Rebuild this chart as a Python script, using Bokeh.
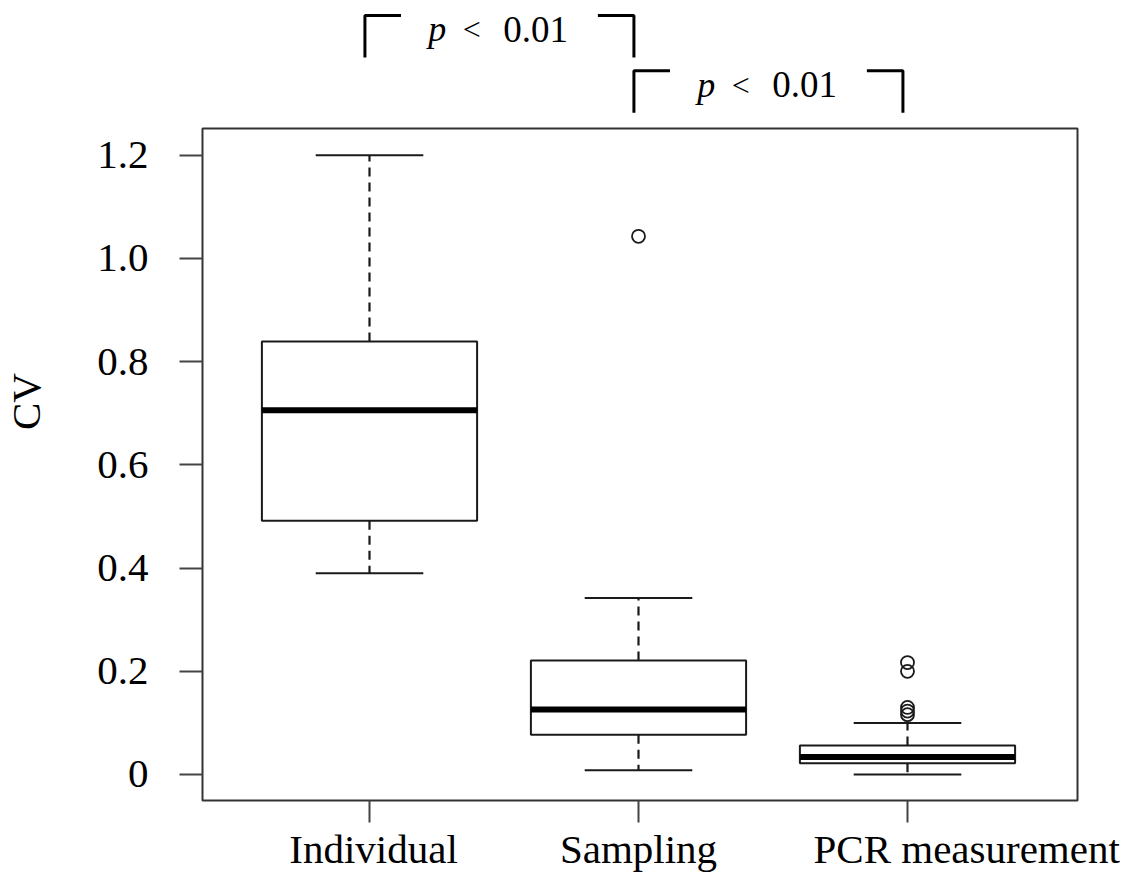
from bokeh.plotting import figure
from bokeh.models import Range1d, FixedTicker
from bokeh.core.properties import value
from bokeh.embed import file_html
from bokeh.resources import INLINE

# ---------------- data ----------------
categories = ["Individual", "Sampling", "PCR measurement"]
lower_whisker = [0.390, 0.008, 0.000]
q1 = [0.492, 0.077, 0.022]
median = [0.706, 0.126, 0.034]
q3 = [0.839, 0.221, 0.056]
upper_whisker = [1.200, 0.342, 0.100]

outlier_category = ["Sampling", "PCR measurement", "PCR measurement",
                    "PCR measurement", "PCR measurement", "PCR measurement"]
outlier_value = [1.043, 0.217, 0.200, 0.130, 0.123, 0.116]

y_ticks = [0.0, 0.2, 0.4, 0.6, 0.8, 1.0, 1.2]
y_tick_labels = ["0", "0.2", "0.4", "0.6", "0.8", "1.0", "1.2"]
y_axis_label = "CV"

comparisons = [("Individual", "Sampling"), ("Sampling", "PCR measurement")]
comparison_stat = ["p", "p"]
comparison_sign = ["<", "<"]
comparison_level = ["0.01", "0.01"]

# ---------------- layout / style ----------------
FONT = "Liberation Serif"
INK = "#1a1a1a"
pos = {c: i + 1 for i, c in enumerate(categories)}
xs = [pos[c] for c in categories]
box_half = 0.4
cap_half = 0.2
label_nudge = [0.015, 0.0, 0.22]      # horizontal nudge of category labels
bracket_top = [1.471, 1.364]          # height of the significance brackets
bracket_drop = 0.0815
bracket_stub = 0.134
bracket_shift = -0.017
text_drop = 0.027

frame_x = (0.37918, 3.63197)
frame_y = (-0.050388, 1.25194)

p = figure(width=1131, height=876,
           x_range=Range1d(0.37175, 3.64312), y_range=Range1d(-0.054264, 1.5),
           output_backend="svg", toolbar_location=None, x_axis_location="below",
           min_border_left=200, min_border_right=51, min_border_top=0,
           min_border_bottom=74)
p.outline_line_color = None
p.grid.grid_line_color = None
p.background_fill_color = "white"

# plot box (frame)
p.quad(left=[frame_x[0]], right=[frame_x[1]], bottom=[frame_y[0]], top=[frame_y[1]],
       fill_color=None, line_color="#333333", line_width=2)

# whiskers (dashed)
p.segment(x0=xs, y0=q3, x1=xs, y1=upper_whisker, line_color=INK, line_width=2.2,
          line_dash="9 6")
p.segment(x0=xs, y0=q1, x1=xs, y1=lower_whisker, line_color=INK, line_width=2.2,
          line_dash="9 6")
# whisker caps
p.segment(x0=[x - cap_half for x in xs], y0=upper_whisker,
          x1=[x + cap_half for x in xs], y1=upper_whisker, line_color=INK, line_width=2)
p.segment(x0=[x - cap_half for x in xs], y0=lower_whisker,
          x1=[x + cap_half for x in xs], y1=lower_whisker, line_color=INK, line_width=2)
# boxes
p.quad(left=[x - box_half for x in xs], right=[x + box_half for x in xs],
       bottom=q1, top=q3, fill_color="white", line_color=INK, line_width=2)
# medians
p.segment(x0=[x - box_half for x in xs], y0=median,
          x1=[x + box_half for x in xs], y1=median, line_color="black", line_width=6)
# outliers
p.scatter(x=[pos[c] for c in outlier_category], y=outlier_value, marker="circle",
          size=13, fill_color=None, line_color=INK, line_width=1.8)

# significance brackets
b_xs, b_ys = [], []
for (a, b), top in zip(comparisons, bracket_top):
    xa, xb = pos[a] + bracket_shift, pos[b] + bracket_shift
    b_xs += [[xa, xa, xa + bracket_stub], [xb - bracket_stub, xb, xb]]
    b_ys += [[top - bracket_drop, top, top], [top, top, top - bracket_drop]]
p.multi_line(xs=b_xs, ys=b_ys, line_color="black", line_width=3)

mids = [(pos[a] + pos[b]) / 2 for a, b in comparisons]
base = [t - text_drop for t in bracket_top]
p.text(x=[m - 0.282 for m in mids], y=base, text=comparison_stat,
       text_font=value(FONT), text_font_size="36px", text_font_style="italic",
       text_align="left", text_baseline="alphabetic", text_color="black")
p.text(x=[m - 0.12 for m in mids], y=base, text=comparison_sign,
       text_font=value(FONT), text_font_size="32px",
       text_align="center", text_baseline="alphabetic", text_color="black")
p.text(x=[m + 0.238 for m in mids], y=base, text=comparison_level,
       text_font=value(FONT), text_font_size="37px",
       text_align="right", text_baseline="alphabetic", text_color="black")

# y axis
ya = p.yaxis[0]
ya.ticker = FixedTicker(ticks=y_ticks)
ov = {}
for t, l in zip(y_ticks, y_tick_labels):
    ov[t] = l
    ov[str(t)] = l
ya.major_label_overrides = ov
ya.axis_line_color = None
ya.major_tick_out = 21
ya.major_tick_in = 2
ya.major_tick_line_color = "#444444"
ya.major_tick_line_width = 2
ya.minor_tick_line_color = None
ya.major_label_standoff = 31
ya.major_label_text_font = FONT
ya.major_label_text_font_size = "41px"
ya.major_label_text_color = "black"
ya.axis_label = y_axis_label
ya.axis_label_text_font = FONT
ya.axis_label_text_font_size = "41px"
ya.axis_label_text_font_style = "normal"
ya.axis_label_text_color = "black"
ya.axis_label_standoff = 45

# x axis: labels at (nudged) category positions, tick marks at category centres
label_x = [x + n for x, n in zip(xs, label_nudge)]
xov = {}
for lx, c in zip(label_x, categories):
    xov[lx] = c
    xov[str(lx)] = c
xa = p.xaxis[0]
xa.ticker = FixedTicker(ticks=label_x, minor_ticks=xs)
xa.major_label_overrides = xov
xa.axis_line_color = None
xa.major_tick_out = 20
xa.major_tick_in = 0
xa.major_tick_line_color = None
xa.minor_tick_out = 20
xa.minor_tick_in = 2
xa.minor_tick_line_color = "#444444"
xa.minor_tick_line_width = 2
xa.major_label_standoff = 3
xa.major_label_text_font = FONT
xa.major_label_text_font_size = "41px"
xa.major_label_text_color = "black"

open("out.html", "w").write(file_html(p, INLINE))
